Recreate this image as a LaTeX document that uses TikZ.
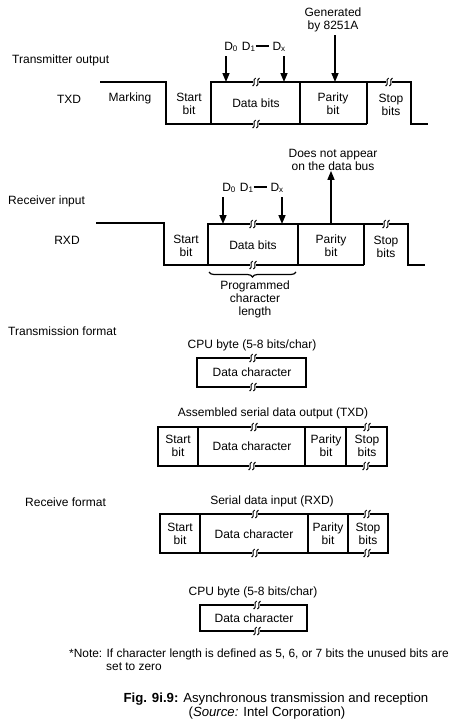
\documentclass[tikz,border=0pt]{standalone}
\usepackage{fontspec}
\setmainfont{Liberation Sans}
\usetikzlibrary{arrows.meta,decorations.pathreplacing}
\tikzset{
  lbl/.style={font=\fontsize{12}{13}\selectfont, inner sep=0pt, align=center},
  lblw/.style={lbl, anchor=west, align=left},
  wave/.style={line width=1.8pt, line join=miter},
  frm/.style={line width=1.8pt},
  arr/.style={line width=1.5pt, -{Triangle[length=9pt,width=7pt]}},
  brk/.pic={
    \fill[white] (-3.4,-3.5) rectangle (3.4,3.5);
    \draw[line width=1pt] (-3.4,4) .. controls (0.5,2.5) and (-4.2,-2.5) .. (-0.3,-4);
    \draw[line width=1pt] (0.4,4) .. controls (4.3,2.5) and (-0.4,-2.5) .. (3.5,-4);
  }
}
\begin{document}
\begin{tikzpicture}[x=1pt,y=-1pt]
\useasboundingbox (0,0) rectangle (474,728);
% ---------------- Transmitter output ----------------
\node[lblw] (txtitle) at (12,60) {Transmitter output};
\node[lbl] (txd) at (69,99) {TXD};
\node[lbl] (mark) at (130,98) {Marking};
\node[lbl] (gen) at (333,20) {Generated\\by 8251A};
\node[lbl] (txdl) at (255,47) {D\textsubscript{0}\,\,D\textsubscript{1}\rule[0.3em]{13pt}{1.2pt}\,\,D\textsubscript{x}};
\draw[wave] (100,82) -- (166,82) -- (166,124) -- (367,124);
\draw[wave] (211,124) -- (211,82) -- (411,82) -- (411,124) -- (428,124);
\draw[wave] (300,82) -- (300,124);
\draw[wave] (367,82) -- (367,124);
\node[lbl] (txstart) at (189,104) {Start\\bit};
\node[lbl] (txdata) at (256,103) {Data bits};
\node[lbl] (txpar) at (333,104) {Parity\\bit};
\node[lbl] (txstop) at (391,105) {Stop\\bits};
\pic at (256,82) {brk};
\pic at (256,124) {brk};
\pic at (389,82) {brk};
\coordinate (txa0s) at (226,56); \coordinate (txa0e) at (226,82);
\coordinate (txaxs) at (284,56); \coordinate (txaxe) at (284,82);
\coordinate (txape) at (335,82);
\draw[arr] (txa0s) -- (txa0e);
\draw[arr] (txaxs) -- (txaxe);
\draw[arr] (gen.south -| txape) ++(0,3) coordinate (txaps) (txaps) -- (txape);
% ---------------- Receiver input ----------------
\node[lblw] (rxtitle) at (8,201) {Receiver input};
\node[lbl] (rxd) at (67,240) {RXD};
\node[lbl] (dna) at (333,160) {Does not appear\\on the data bus};
\node[lbl] (rxdl) at (253,188) {D\textsubscript{0}\,\,D\textsubscript{1}\rule[0.3em]{13pt}{1.2pt}\,\,D\textsubscript{x}};
\draw[wave] (96,223) -- (164,223) -- (164,265) -- (364,265);
\draw[wave] (208,265) -- (208,224) -- (408,224) -- (408,265) -- (425,265);
\draw[wave] (298,224) -- (298,265);
\draw[wave] (364,224) -- (364,265);
\node[lbl] (rxstart) at (186,246) {Start\\bit};
\node[lbl] (rxdata) at (253,245) {Data bits};
\node[lbl] (rxpar) at (331,246) {Parity\\bit};
\node[lbl] (rxstop) at (386,247) {Stop\\bits};
\pic at (253,224) {brk};
\pic at (253,265) {brk};
\pic at (386,224) {brk};
\coordinate (rxa0s) at (223,197); \coordinate (rxa0e) at (223,224);
\coordinate (rxaxs) at (282,197); \coordinate (rxaxe) at (282,224);
\coordinate (rxaps) at (331,224);
\draw[arr] (rxa0s) -- (rxa0e);
\draw[arr] (rxaxs) -- (rxaxe);
\draw[arr] (rxaps) -- (rxaps |- dna.south);
\coordinate (brl) at (209,272); \coordinate (brr) at (296,272);
\draw[line width=1.2pt, decorate, decoration={brace, amplitude=5pt, mirror}] (brl) -- (brr);
\node[lbl] (prog) at (255,299) {Programmed\\character\\length};
% ---------------- Transmission format ----------------
\node[lblw] (tftitle) at (8,331) {Transmission format};
\node[lbl] (cpu1) at (252,345) {CPU byte (5-8 bits/char)};
\draw[frm] (197,358) rectangle (306,387);
\node[lbl] (dc1) at (252,372) {Data character};
\pic at (253,358) {brk};
\pic at (253,387) {brk};
\node[lbl] (asm) at (273,413) {Assembled serial data output (TXD)};
\draw[frm] (158,427) rectangle (387,466);
\draw[frm] (198,427) -- (198,466);
\draw[frm] (305,427) -- (305,466);
\draw[frm] (346,427) -- (346,466);
\node[lbl] (f2start) at (178,446) {Start\\bit};
\node[lbl] (f2data) at (252,446) {Data character};
\node[lbl] (f2par) at (326,446) {Parity\\bit};
\node[lbl] (f2stop) at (367,446) {Stop\\bits};
\pic at (254,427) {brk};
\pic at (367,427) {brk};
\pic at (252,466) {brk};
\pic at (366,466) {brk};
% ---------------- Receive format ----------------
\node[lblw] (rftitle) at (25,502) {Receive format};
\node[lbl] (sdi) at (272,501) {Serial data input (RXD)};
\draw[frm] (160,514) rectangle (388,553);
\draw[frm] (200,514) -- (200,553);
\draw[frm] (308,514) -- (308,553);
\draw[frm] (348,514) -- (348,553);
\node[lbl] (f3start) at (180,534) {Start\\bit};
\node[lbl] (f3data) at (254,534) {Data character};
\node[lbl] (f3par) at (328,534) {Parity\\bit};
\node[lbl] (f3stop) at (368,534) {Stop\\bits};
\pic at (255,514) {brk};
\pic at (367,514) {brk};
\pic at (255,553) {brk};
\pic at (367,553) {brk};
\node[lbl] (cpu2) at (253,592) {CPU byte (5-8 bits/char)};
\draw[frm] (200,605) rectangle (307,631);
\node[lbl] (dc2) at (254,618) {Data character};
\pic at (257,605) {brk};
\pic at (257,631) {brk};
% ---------------- Note and caption ----------------
\node[lblw, font=\fontsize{11.9}{13}\selectfont] (note1) at (69,654) {*Note: If character length is defined as 5, 6, or 7 bits the unused bits are};
\node[lblw, font=\fontsize{11.9}{13}\selectfont] (note2) at (106,667) {set to zero};
\node[lbl, font=\fontsize{13.2}{14}\selectfont] (cap1) at (276,699) {\textbf{Fig. 9i.9:} Asynchronous transmission and reception};
\node[lbl, font=\fontsize{13.2}{14}\selectfont] (cap2) at (267,713) {(\textit{Source:} Intel Corporation)};
\end{tikzpicture}
\end{document}
